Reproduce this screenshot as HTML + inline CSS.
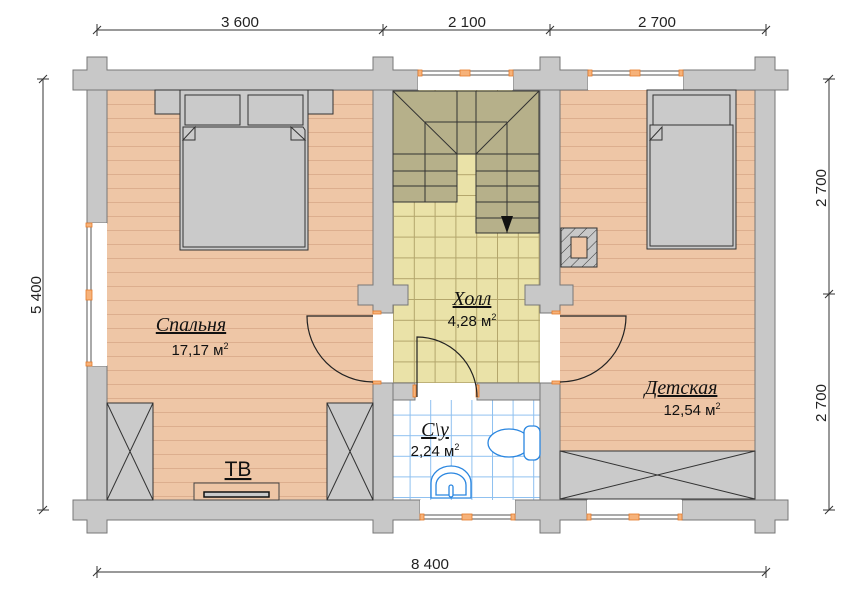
<!DOCTYPE html>
<html><head><meta charset="utf-8"><style>html,body{margin:0;padding:0;background:#fff}svg{display:block}</style></head><body>
<svg width="852" height="601" viewBox="0 0 852 601" xmlns="http://www.w3.org/2000/svg" font-family="Liberation Sans, sans-serif">
<defs>
<pattern id="wood" x="0" y="90" width="20" height="14" patternUnits="userSpaceOnUse">
<rect width="20" height="14" fill="#EEC6A6"/><line x1="0" y1="0.5" x2="20" y2="0.5" stroke="#DCAE8E" stroke-width="1"/>
</pattern>
<pattern id="tile" x="393" y="91" width="20.8" height="20.8" patternUnits="userSpaceOnUse">
<rect width="21" height="21" fill="#EAE2A8"/><path d="M0 0.5H21M0.5 0V21" stroke="#B3A56C" stroke-width="1"/>
</pattern>
<pattern id="btile" x="389" y="394" width="20.6" height="20.6" patternUnits="userSpaceOnUse">
<rect width="21" height="21" fill="#fff"/><path d="M0 0.5H21M0.5 0V21" stroke="#8EC0F0" stroke-width="1"/>
</pattern>
<pattern id="hatch" width="8" height="8" patternUnits="userSpaceOnUse" patternTransform="rotate(45)">
<rect width="8" height="8" fill="#C8C8C8"/><line x1="0" y1="0" x2="0" y2="8" stroke="#333" stroke-width="1"/>
</pattern>
</defs>

<rect x="107" y="90" width="266" height="410" fill="url(#wood)"/>
<rect x="560" y="90" width="195" height="361" fill="url(#wood)"/>
<rect x="393" y="90" width="147" height="293" fill="url(#tile)"/>
<rect x="393" y="400" width="147" height="100" fill="url(#btile)"/>
<rect x="373" y="313" width="20" height="70" fill="#fff"/>
<rect x="540" y="313" width="20" height="70" fill="#fff"/>

<g fill="#C8C8C8" stroke="#777" stroke-width="1">
<path d="M73 70H87V57H107V70H373V57H393V70H418V90H107V90H87V90H73Z"/>
<path d="M513 70H540V57H560V70H588V90H513Z"/>
<path d="M683 70H755V57H775V70H788V90H683Z"/>
<path d="M87 90H107V223H87Z"/>
<path d="M87 366H107V500H87Z"/>
<path d="M755 90H775V500H755Z"/>
<path d="M73 500H420V520H393V533H373V520H107V533H87V520H73Z"/>
<path d="M515 500H587V520H560V533H540V520H515Z"/>
<path d="M682 500H788V520H775V533H755V520H682Z"/>
<path d="M373 90H393V285H408V305H393V313H373V305H358V285H373Z"/>
<path d="M373 383H393V500H373Z"/>
<path d="M540 90H560V285H573V305H560V313H540V305H525V285H540Z"/>
<path d="M540 383H560V500H540Z"/>
<path d="M393 383H415V400H393Z"/>
<path d="M477 383H540V400H477Z"/>
</g>

<g fill="#fff" stroke="#555" stroke-width="1">
<rect x="418" y="70" width="95" height="20" stroke="none"/>
<rect x="588" y="70" width="95" height="20" stroke="none"/>
<rect x="420" y="500" width="95" height="20" stroke="none"/>
<rect x="587" y="500" width="95" height="20" stroke="none"/>
<rect x="87" y="223" width="20" height="143" stroke="none"/>
<rect x="419" y="71" width="93" height="4"/>
<rect x="589" y="71" width="93" height="4"/>
<rect x="421" y="515" width="93" height="4"/>
<rect x="588" y="515" width="93" height="4"/>
<rect x="87" y="224" width="4" height="141"/>
</g>
<g fill="#F6B27A" stroke="#E57A2A" stroke-width="0.8">
<rect x="418" y="70" width="4" height="6"/><rect x="460" y="70" width="10" height="6"/><rect x="509" y="70" width="4" height="6"/>
<rect x="588" y="70" width="4" height="6"/><rect x="630" y="70" width="10" height="6"/><rect x="679" y="70" width="4" height="6"/>
<rect x="420" y="514" width="4" height="6"/><rect x="462" y="514" width="10" height="6"/><rect x="511" y="514" width="4" height="6"/>
<rect x="587" y="514" width="4" height="6"/><rect x="629" y="514" width="10" height="6"/><rect x="678" y="514" width="4" height="6"/>
<rect x="86" y="223" width="6" height="4"/><rect x="86" y="290" width="6" height="10"/><rect x="86" y="362" width="6" height="4"/>
<rect x="373" y="311" width="8" height="3"/><rect x="373" y="381" width="8" height="3"/>
<rect x="552" y="311" width="8" height="3"/><rect x="552" y="381" width="8" height="3"/>
<rect x="413" y="385" width="3" height="12"/><rect x="476" y="385" width="3" height="12"/>
</g>

<g fill="#B6B08A" stroke="#333" stroke-width="1">
<path d="M393 91H539V233H476V154H457V202H393Z"/>
</g>
<g stroke="#333" stroke-width="1" fill="none">
<path d="M393 91L457 154M539 91L476 154"/>
<path d="M457 91V154M476 91V154M425 122V202M507 122V233"/>
<path d="M425 122H507M393 154H457M476 154H539"/>
<path d="M393 171H457M393 186H457M476 171H539M476 186H539M476 202H539M476 218H539"/>
</g>
<path d="M501 216H513L507 233Z" fill="#111"/>

<g fill="#CACACA" stroke="#333" stroke-width="1">
<rect x="155" y="90" width="178" height="24"/>
<rect x="180" y="90" width="128" height="160"/>
<rect x="185" y="95" width="55" height="30"/>
<rect x="248" y="95" width="55" height="30"/>
<path d="M183 127H303L305 130V247H183V130Z"/>
<path d="M183 140L195 127V140Z"/><path d="M305 140L291 127V140Z"/>
<rect x="107" y="403" width="46" height="97"/>
<rect x="327" y="403" width="46" height="97"/>
<rect x="560" y="451" width="195" height="48"/>
<rect x="647" y="90" width="89" height="159"/>
<rect x="653" y="95" width="77" height="32"/>
<rect x="650" y="125" width="83" height="121"/>
<path d="M650 140L662 127V140Z"/>
</g>
<g stroke="#333" stroke-width="1">
<path d="M107 403L153 500M153 403L107 500M327 403L373 500M373 403L327 500M560 451L755 499M755 451L560 499"/>
</g>
<rect x="194" y="483" width="85" height="17" fill="#EEC6A6" stroke="#444"/>
<rect x="204" y="492" width="65" height="5" fill="#CACACA" stroke="#111" stroke-width="1.5"/>
<rect x="561" y="228" width="36" height="39" fill="url(#hatch)" stroke="#333"/>
<rect x="571" y="237" width="16" height="21" fill="#EEC6A6" stroke="#333"/>

<g fill="none" stroke="#222" stroke-width="1.2">
<path d="M373 316H307A66 66 0 0 0 373 382"/>
<path d="M560 316H626A66 66 0 0 1 560 382"/>
<path d="M417 397V337A60 60 0 0 1 477 397"/>
</g>

<g fill="#fff" stroke="#2A86E0" stroke-width="1.3">
<ellipse cx="509" cy="443" rx="21" ry="14"/>
<rect x="524" y="426" width="16" height="34" rx="6"/>
<path d="M431 498V483A20 17 0 0 1 471 483V498Z"/>
<path d="M436 495V485A15 12 0 0 1 466 485V495Z"/>
<rect x="449" y="485" width="4" height="12" rx="2"/>
</g>

<g fill="#111">
<text x="191" y="331" font-family="Liberation Serif, serif" font-style="italic" font-size="20" text-anchor="middle" text-decoration="underline">Спальня</text>
<text x="200" y="355" font-size="15" text-anchor="middle">17,17 м<tspan font-size="9" dy="-6">2</tspan></text>
<text x="472" y="305" font-family="Liberation Serif, serif" font-style="italic" font-size="20" text-anchor="middle" text-decoration="underline">Холл</text>
<text x="472" y="326" font-size="15" text-anchor="middle">4,28 м<tspan font-size="9" dy="-6">2</tspan></text>
<text x="435" y="436" font-family="Liberation Serif, serif" font-style="italic" font-size="20" text-anchor="middle" text-decoration="underline">С\у</text>
<text x="435" y="456" font-size="15" text-anchor="middle">2,24 м<tspan font-size="9" dy="-6">2</tspan></text>
<text x="681" y="394" font-family="Liberation Serif, serif" font-style="italic" font-size="20" text-anchor="middle" text-decoration="underline">Детская</text>
<text x="692" y="415" font-size="15" text-anchor="middle">12,54 м<tspan font-size="9" dy="-6">2</tspan></text>
<text x="238" y="476" font-size="21" text-anchor="middle" text-decoration="underline">ТВ</text>
</g>

<g stroke="#333" stroke-width="1">
<line x1="97" y1="30" x2="766" y2="30"/>
<path d="M97 24V36M383 24V36M550 24V36M766 24V36"/>
<path d="M93 34L101 26M379 34L387 26M546 34L554 26M762 34L770 26"/>
<line x1="97" y1="572" x2="766" y2="572"/>
<path d="M97 566V578M766 566V578M93 576L101 568M762 576L770 568"/>
<line x1="43" y1="79" x2="43" y2="510"/>
<path d="M37 79H49M37 510H49M39 83L47 75M39 514L47 506"/>
<line x1="829" y1="79" x2="829" y2="510"/>
<path d="M823 79H835M823 294H835M823 510H835M825 83L833 75M825 298L833 290M825 514L833 506"/>
</g>
<g fill="#222" font-size="15" text-anchor="middle">
<text x="240" y="27" textLength="38" lengthAdjust="spacingAndGlyphs">3 600</text>
<text x="467" y="27" textLength="38" lengthAdjust="spacingAndGlyphs">2 100</text>
<text x="657" y="27" textLength="38" lengthAdjust="spacingAndGlyphs">2 700</text>
<text x="430" y="569" textLength="38" lengthAdjust="spacingAndGlyphs">8 400</text>
<text transform="translate(41 295) rotate(-90)" textLength="38" lengthAdjust="spacingAndGlyphs">5 400</text>
<text transform="translate(826 188) rotate(-90)" textLength="38" lengthAdjust="spacingAndGlyphs">2 700</text>
<text transform="translate(826 403) rotate(-90)" textLength="38" lengthAdjust="spacingAndGlyphs">2 700</text>
</g>
</svg>
</body></html>
